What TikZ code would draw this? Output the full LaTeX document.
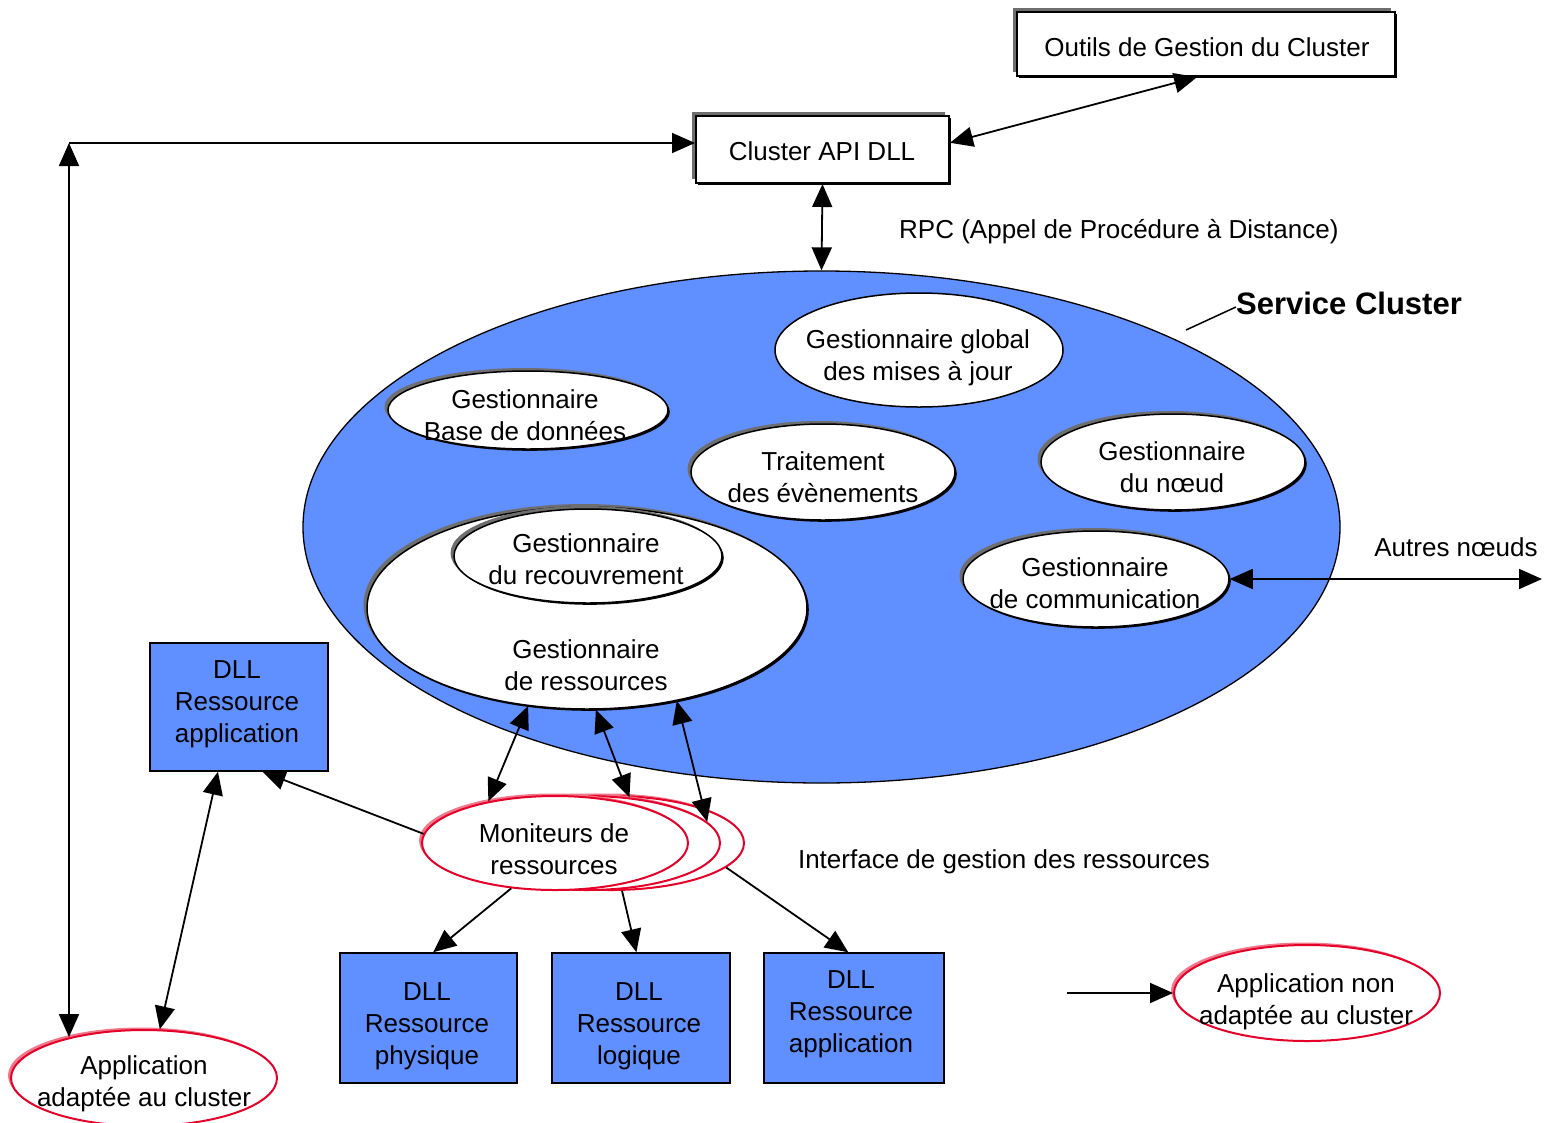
\documentclass[tikz,border=0pt]{standalone}
\usepackage{fontspec}
\setmainfont{Liberation Sans}
\usetikzlibrary{arrows.meta,shapes.geometric,shadows,calc}
\definecolor{cblue}{RGB}{96,143,255}
\definecolor{cred}{RGB}{228,0,40}
\definecolor{cpink}{RGB}{240,120,140}
\definecolor{cgray}{RGB}{110,110,110}
\begin{document}
\begin{tikzpicture}[x=1pt,y=-1pt,
  >={Triangle[length=23pt,width=20pt]},
  conn/.style={line width=1.8pt},
  txt/.style={font=\fontsize{26}{32}\selectfont, align=center, inner sep=0pt},
  ell/.style={ellipse, draw=black, fill=white, line width=1.5pt, inner sep=0pt},
  shell/.style={ell,
    general shadow={shadow xshift=1.8pt, shadow yshift=-1.8pt, fill=black},
    general shadow={shadow xshift=-3.5pt, shadow yshift=3pt, fill=cgray}},
  redell/.style={ellipse, draw=cred, fill=white, line width=2pt, inner sep=0pt,
    general shadow={shadow xshift=-3pt, shadow yshift=2.5pt, fill=cpink}},
  sbox/.style={rectangle, draw=black, fill=white, line width=2pt, inner sep=0pt,
    general shadow={shadow xshift=1.5pt, shadow yshift=-1.5pt, fill=black},
    general shadow={shadow xshift=-4pt, shadow yshift=4pt, fill=cgray}},
  bbox/.style={rectangle, draw=black, fill=cblue, line width=1.5pt, inner sep=0pt},
]
\useasboundingbox (0,0) rectangle (1544,1122);

% top boxes
\node[sbox, minimum width=378pt, minimum height=64pt] (outils) at (1206,44) {};
\node[txt] at (1207,50) {Outils de Gestion du Cluster\strut};
\node[sbox, minimum width=253pt, minimum height=67pt] (api) at (822.5,149.5) {};
\node[txt] at (822,154) {Cluster API DLL\strut};
\node[txt, anchor=west] at (899,232) {RPC (Appel de Procédure à Distance)\strut};

% service cluster
\node[ellipse, draw=black, fill=cblue, line width=1.3pt, inner sep=0pt,
      minimum width=1037pt, minimum height=512pt] (sc) at (821.5,527) {};
\node[txt, font=\fontsize{31}{38}\selectfont\bfseries] (sclab) at (1349,307) {Service Cluster\strut};
\coordinate (sclp) at (1186,330);

\node[ell, minimum width=288pt, minimum height=114pt] (glob) at (919,350) {};
\node[txt] at (918,358) {Gestionnaire global\strut\\des mises à jour\strut};
\node[shell, minimum width=280pt, minimum height=78pt] (gbd) at (528,410) {};
\node[txt] at (525,418) {Gestionnaire\strut\\Base de données\strut};
\node[shell, minimum width=264pt, minimum height=96pt] (trait) at (823,472) {};
\node[txt] at (823,480) {Traitement\strut\\des évènements\strut};
\node[shell, minimum width=264pt, minimum height=96pt] (noeud) at (1173,462) {};
\node[txt] at (1172,470) {Gestionnaire\strut\\du nœud\strut};
\node[shell, minimum width=266pt, minimum height=96pt] (comm) at (1096,579) {};
\node[txt] at (1095,586) {Gestionnaire\strut\\de communication\strut};
\node[shell, minimum width=440pt, minimum height=202pt] (gr) at (587,608) {};
\node[shell, minimum width=268pt, minimum height=94pt] (grec) at (588,556) {};
\node[txt] at (586,562) {Gestionnaire\strut\\du recouvrement\strut};
\node[txt] at (586,668) {Gestionnaire\strut\\de ressources\strut};

\coordinate (autres) at (1542,579);
\node[txt] at (1456,550) {Autres nœuds\strut};

% DLL boxes
\node[bbox, minimum width=178pt, minimum height=128pt] (dlla) at (239,707) {};
\node[txt] at (237,704) {DLL\strut\\Ressource\strut\\application\strut};
\node[bbox, minimum width=177pt, minimum height=130pt] (phys) at (428.5,1018) {};
\node[txt] at (427,1026) {DLL\strut\\Ressource\strut\\physique\strut};
\node[bbox, minimum width=178pt, minimum height=130pt] (log) at (641,1018) {};
\node[txt] at (639,1026) {DLL\strut\\Ressource\strut\\logique\strut};
\node[bbox, minimum width=180pt, minimum height=130pt] (dllb) at (854,1018) {};
\node[txt] at (851,1014) {DLL\strut\\Ressource\strut\\application\strut};

% monitors
\node[redell, minimum width=266pt, minimum height=94pt] (mon3) at (611,843) {};
\node[redell, minimum width=266pt, minimum height=94pt] (mon2) at (587,843) {};
\node[redell, minimum width=266pt, minimum height=94pt] (mon) at (555,843) {};
\node[txt] at (554,852) {Moniteurs de\strut\\ressources\strut};
\node[txt] at (1004,862) {Interface de gestion des ressources\strut};

% applications
\node[redell, minimum width=266pt, minimum height=96pt] (appA) at (144,1078) {};
\node[txt] at (144,1084) {Application\strut\\adaptée au cluster\strut};
\node[redell, minimum width=266pt, minimum height=96pt] (appN) at (1307,993) {};
\node[txt] at (1306,1002) {Application non\strut\\adaptée au cluster\strut};
\coordinate (nonsrc) at (1067,993);

% connectors
\coordinate (corner) at (69,143);
\draw[conn,->] (corner) -- (corner -| api.west);
\draw[conn,<->] (corner) -- (corner |- appA.151);
\draw[conn,<->] (outils.-105) -- (api.3);
\draw[conn,<->] (api.south) -- (sc.north);
\draw[line width=1.5pt] (sclp) -- (sclab.west);
\draw[conn,<->] (comm.east) -- (autres);
\draw[conn,->] (nonsrc) -- (appN.west);
\draw[conn,<->] (gr.-121) -- (mon.148);
\draw[conn,<->] (gr.-85) -- (mon2.47);
\draw[conn,<->] (gr.-46) -- (mon2.10);
\draw[conn,->] (mon.176) -- (dlla.-70);
\draw[conn,<->] (dlla.-108) -- (appA.72);
\draw[conn,->] (mon.-134) -- (phys.86);
\draw[conn,->] (mon3.-77) -- (log.94);
\draw[conn,->] (mon3.-12) -- (dllb.95);
\end{tikzpicture}
\end{document}
